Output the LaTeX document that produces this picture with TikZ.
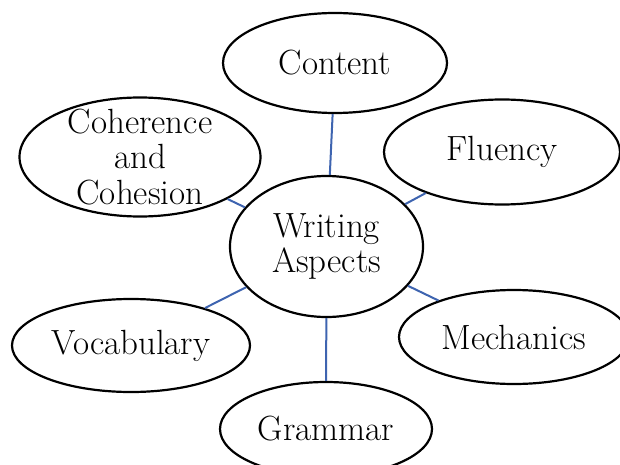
\documentclass[tikz,border=0pt]{standalone}
\usetikzlibrary{shapes.geometric}
\definecolor{linkblue}{RGB}{62,100,176}
\begin{document}
\begin{tikzpicture}[x=1pt,y=-1pt,
  bubble/.style={ellipse,draw=black,line width=2.2pt,fill=white,inner sep=0pt},
  btext/.style={font=\fontsize{35}{35.5}\selectfont,align=center,inner sep=0pt},
  link/.style={draw=linkblue,line width=2pt}]
\useasboundingbox (0,0) rectangle (620,465);
\begin{scope}
\clip (0,0) rectangle (620,465);
\node[bubble,minimum width=224pt,minimum height=100pt] (content) at (335,63) {};
\node[bubble,minimum width=241pt,minimum height=119pt] (coh) at (140,157) {};
\node[bubble,minimum width=236pt,minimum height=105pt] (flu) at (502,152) {};
\node[bubble,minimum width=193pt,minimum height=141pt] (wa) at (326.5,246.5) {};
\node[bubble,minimum width=238pt,minimum height=93pt] (voc) at (131,345.5) {};
\node[bubble,minimum width=230pt,minimum height=94pt] (mech) at (514,337) {};
\node[bubble,minimum width=212pt,minimum height=94pt] (gram) at (326,429) {};
\draw[link] (wa) -- (content);
\draw[link] (wa) -- (coh);
\draw[link] (wa) -- (flu);
\draw[link] (wa) -- (voc);
\draw[link] (wa) -- (mech);
\draw[link] (wa) -- (gram);
\node[btext] (contentT) at (content.center) {Content};
\node[btext] (cohT) at (coh.center) {Coherence\\and\\Cohesion};
\node[btext] (fluT) at (flu.center) {Fluency};
\node[btext] (waT) at (wa.center) {Writing\\Aspects};
\node[btext] (vocT) at (voc.center) {Vocabulary};
\node[btext] (mechT) at (mech.center) {Mechanics};
\node[btext] (gramT) at (gram.center) {Grammar};
\end{scope}
\end{tikzpicture}
\end{document}
